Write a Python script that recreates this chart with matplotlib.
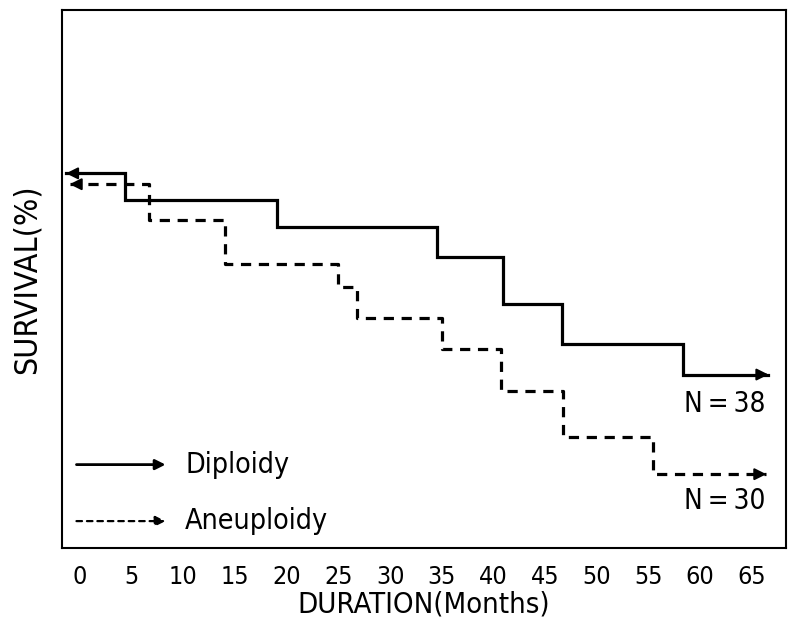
import matplotlib
matplotlib.use("Agg")
import matplotlib.pyplot as plt

# Data (months, survival %)
dip_times = [-1.35, 4.4, 19.05, 34.5, 40.9, 46.6, 58.3, 66.6]
dip_surv = [100.0, 92.8, 85.6, 77.7, 65.2, 54.5, 46.3, 46.3]
aneu_times = [-1.0, 6.7, 14.0, 25.0, 26.8, 35.0, 40.7, 46.7, 55.4, 66.4]
aneu_surv = [97.1, 87.5, 75.8, 69.7, 61.4, 53.2, 42.0, 29.5, 19.7, 19.7]
xticks = list(range(0, 70, 5))
series_labels = ["Diploidy", "Aneuploidy"]
n_labels = ["N=38", "N=30"]

plt.rcParams['font.family'] = ['DejaVu Sans']
plt.rcParams['font.stretch'] = 'condensed'

fig = plt.figure(figsize=(7.94, 6.26), dpi=100)
ax = fig.add_axes([62/794, 78/626, (786-62)/794, (548-10)/626])

ax.step(dip_times, dip_surv, where='post', color='black', lw=2.3, solid_joinstyle='miter')
ax.step(aneu_times, aneu_surv, where='post', color='black', lw=2.3, linestyle=(0, (3.2, 2.4)))

def head(x, y, dx):
    ax.annotate('', xy=(x, y), xytext=(x - dx, y),
                arrowprops=dict(arrowstyle='-|>,head_length=0.5,head_width=0.25', color='black',
                                lw=1.5, shrinkA=0, shrinkB=0, mutation_scale=14))

head(dip_times[0], dip_surv[0], -0.8)
head(aneu_times[0], aneu_surv[0], -0.8)
head(dip_times[-1], dip_surv[-1], 0.8)
head(aneu_times[-1], aneu_surv[-1], 0.8)

ax.set_xlim(-1.74, 68.3)
ax.set_ylim(0, 143.6)
ax.set_xticks(xticks)
ax.set_xticklabels([str(t) for t in xticks], fontsize=18)
ax.tick_params(axis='x', length=0, pad=12)
ax.set_yticks([])
for s in ax.spines.values():
    s.set_linewidth(1.5)

ax.set_xlabel("DURATION(Months)", fontsize=21, labelpad=1)
ax.set_ylabel("SURVIVAL(%)", fontsize=23, labelpad=14)

# N labels
sp = "\u2009"
ax.text(66.3, 38.5, n_labels[0].replace("=", sp + "=" + sp), fontsize=20, ha='right', va='center')
ax.text(66.3, 12.5, n_labels[1].replace("=", sp + "=" + sp), fontsize=20, ha='right', va='center')

# Legend (manual)
ax.annotate('', xy=(0.143, 0.155), xytext=(0.02, 0.155), xycoords='axes fraction',
            arrowprops=dict(arrowstyle='-|>,head_length=0.5,head_width=0.25', color='black',
                            lw=2.0, shrinkA=0, shrinkB=0, mutation_scale=12))
ax.annotate('', xy=(0.143, 0.05), xytext=(0.02, 0.05), xycoords='axes fraction',
            arrowprops=dict(arrowstyle='-|>,head_length=0.5,head_width=0.25', color='black',
                            lw=1.6, linestyle=(0, (2.5, 2.2)), shrinkA=0, shrinkB=0, mutation_scale=12))
ax.text(0.17, 0.155, series_labels[0], transform=ax.transAxes, fontsize=20.5, va='center')
ax.text(0.17, 0.05, series_labels[1], transform=ax.transAxes, fontsize=20.5, va='center')

fig.savefig("out.png", dpi=100)
